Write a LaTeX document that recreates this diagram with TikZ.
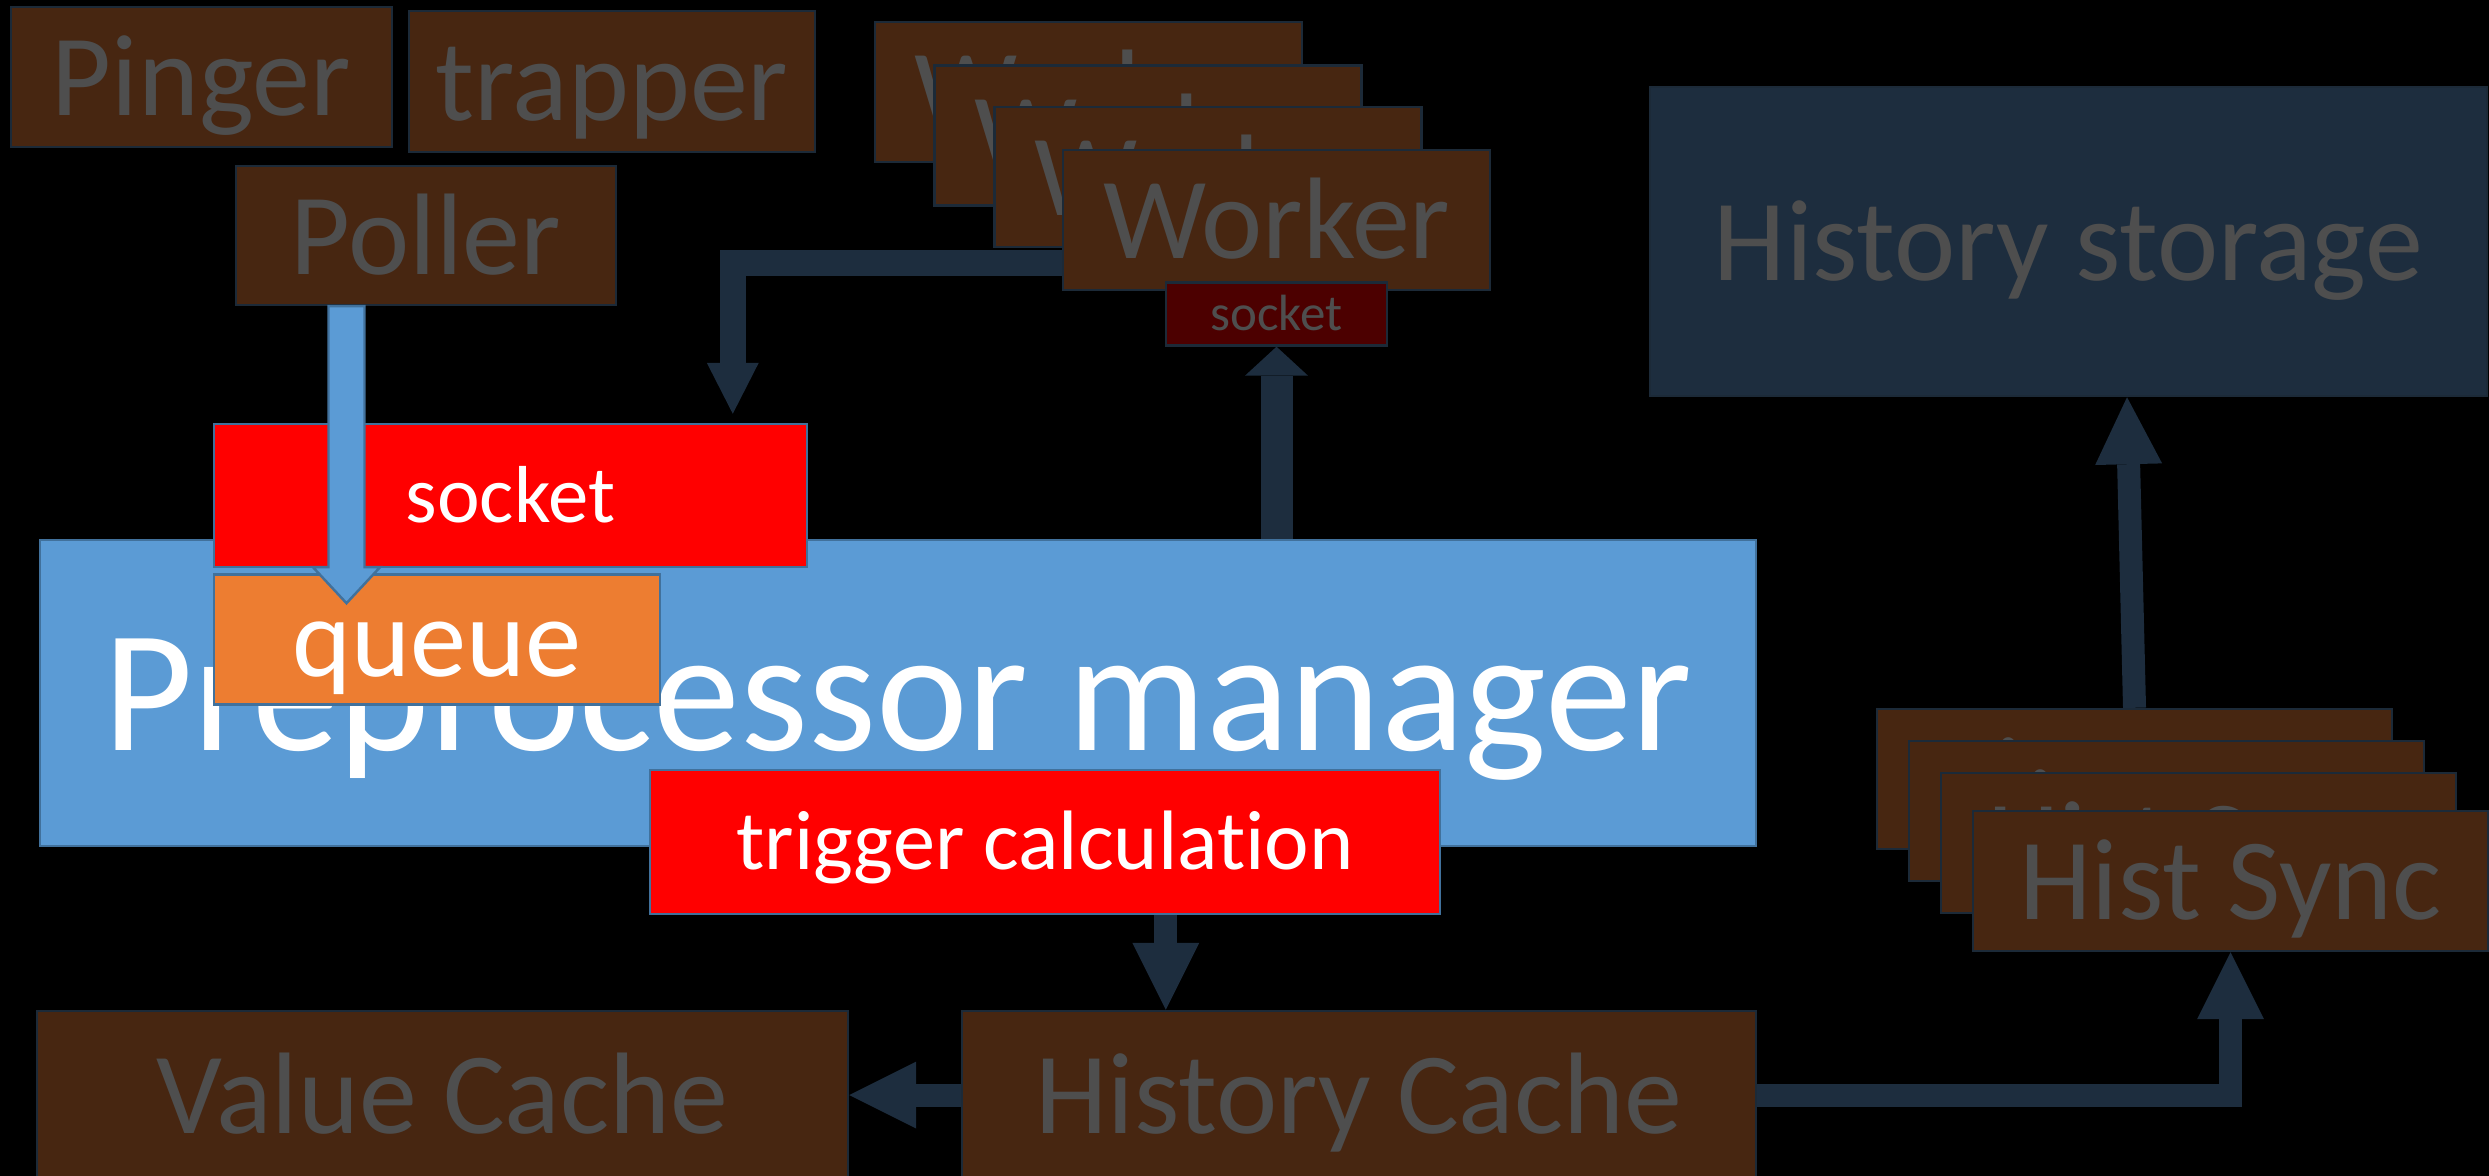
\documentclass[tikz,border=0pt]{standalone}
\usepackage{fontspec}
\setmainfont{Carlito}[Ligatures=NoCommon]
\usetikzlibrary{positioning}
\usetikzlibrary{arrows.meta}
\usetikzlibrary{calc}
\definecolor{brownfill}{RGB}{71,38,17}
\definecolor{boxedge}{RGB}{28,42,56}
\definecolor{greytext}{RGB}{78,78,78}
\definecolor{arrownavy}{RGB}{29,45,62}
\definecolor{prepblue}{RGB}{91,155,213}
\definecolor{prepedge}{RGB}{65,113,156}
\definecolor{orangefill}{RGB}{237,125,49}
\definecolor{darkred}{RGB}{76,0,0}

\begin{document}
\begin{tikzpicture}
	[x=1cm,y=1cm,
	proc/.style={rectangle,draw=boxedge,line width=0.7pt,fill=brownfill,text=greytext,inner sep=0pt,
		font=\fontsize{33}{40}\selectfont,text height=30pt,text depth=8pt,minimum height=1.4cm},
	manager/.style={rectangle,draw=prepedge,line width=0.7pt,fill=prepblue,text=white,inner sep=0pt},
	redbox/.style={rectangle,draw=prepedge,line width=0.7pt,fill=red,text=white,inner sep=0pt,
		font=\fontsize{24}{29}\selectfont,text height=21.6pt,text depth=6pt},
	flow/.style={draw=arrownavy,line width=0.23cm,-{Triangle[width=0.67cm,length=0.67cm,line width=0pt]}}]
	\fill[black] (0,0) rectangle (24.89,-11.76);
	\useasboundingbox (0,0) rectangle (24.89,-11.76);
	% data gatherers
	\node[proc,minimum width=3.81cm] (pinger) at (2.015,-0.77) {Pinger};
	\node[proc,minimum width=4.06cm,minimum height=1.41cm] (trapper) at (6.12,-0.815) {trapper};
	\node[proc,minimum width=3.80cm,minimum height=1.39cm] (poller) at (4.26,-2.355) {Poller};
	% workers
	\node[proc,minimum width=4.27cm] (worker1) at (10.885,-0.92) {Worker};
	\node[proc,minimum width=4.27cm] (worker2) at (11.48,-1.355) {Worker};
	\node[proc,minimum width=4.27cm] (worker3) at (12.08,-1.77) {Worker};
	\node[proc,minimum width=4.27cm] (worker4) at (12.765,-2.20) {Worker};
	\node[proc,fill=darkred,minimum width=2.21cm,minimum height=0.63cm,font=\fontsize{14.5}{17}\selectfont,
		text height=13pt,text depth=3.6pt] (wsocket) [below=-0.1cm of worker4] {socket};
	\node[proc,fill=arrownavy,minimum width=8.37cm,minimum height=3.09cm] (storage) at (20.685,-2.415) {History storage};
	% preprocessor manager
	\node[manager,minimum width=17.16cm,minimum height=3.06cm,font=\fontsize{49.5}{60}\selectfont,
		text height=44.5pt,text depth=12pt] (manager) at (8.98,-6.93) {Preprocessor manager};
	\node[redbox,minimum width=5.93cm,minimum height=1.43cm,font=\fontsize{23}{28}\selectfont] (msocket) at (5.105,-4.955) {socket};
	\node[manager,fill=orangefill,minimum width=4.46cm,minimum height=1.19cm,font=\fontsize{32}{38}\selectfont,
		text height=29pt,text depth=8pt] (queue) [below=0.05cm of msocket.south west,anchor=north west] {queue};
	\coordinate (pout) at ([xshift=-0.795cm]poller.south);
	\coordinate (qtip) at ($(pout |- queue.north)+(0,-0.30)$);
	\filldraw[fill=prepblue,draw=prepedge,line width=0.7pt] ($(pout)+(-0.18,0)$) -- ($(qtip)+(-0.18,0.36)$)
		-- ($(qtip)+(-0.335,0.36)$) -- (qtip) -- ($(qtip)+(0.335,0.36)$) -- ($(qtip)+(0.18,0.36)$)
		-- ($(pout)+(0.18,0)$) -- cycle;
	\node[redbox,minimum width=7.90cm,minimum height=1.44cm] (trigger) at (10.45,-8.42) {trigger calculation};
	% caches
	\node[proc,minimum width=8.11cm,minimum height=1.68cm] (vcache) at (4.425,-10.95) {Value Cache};
	\node[proc,minimum width=7.94cm,minimum height=1.68cm] (hcache) at (13.59,-10.95) {History Cache};
	% history syncers
	\node[proc,minimum width=5.15cm] (hsync1) at (21.345,-7.79) {Hist Sync};
	\node[proc,minimum width=5.15cm] (hsync2) at (21.665,-8.11) {Hist Sync};
	\node[proc,minimum width=5.15cm] (hsync3) at (21.985,-8.43) {Hist Sync};
	\node[proc,minimum width=5.15cm] (hsync4) at (22.305,-8.81) {Hist Sync};
	% connectors
	\coordinate (wout) at ([yshift=-0.43cm]worker4.west);
	\draw[flow,line width=0.26cm,-{Triangle[width=0.52cm,length=0.51cm,line width=0pt]}]
		(wout) -| ([xshift=5.2cm,yshift=0.09cm]msocket.north west);
	\draw[flow,line width=0.32cm,-{Triangle[width=0.63cm,length=0.29cm,line width=0pt]}]
		(wsocket.south |- manager.north) -- (wsocket.south);
	\coordinate (tout) at ([xshift=5.17cm]trigger.south west);
	\draw[flow] (tout) -- (tout |- hcache.north);
	\draw[flow] (hcache.west) -- (vcache.east);
	\draw[flow] (hcache.east) -| (hsync4.south);
	\draw[flow] (hsync1.north) -- ([xshift=0.585cm]storage.south);
\end{tikzpicture}
\end{document}
